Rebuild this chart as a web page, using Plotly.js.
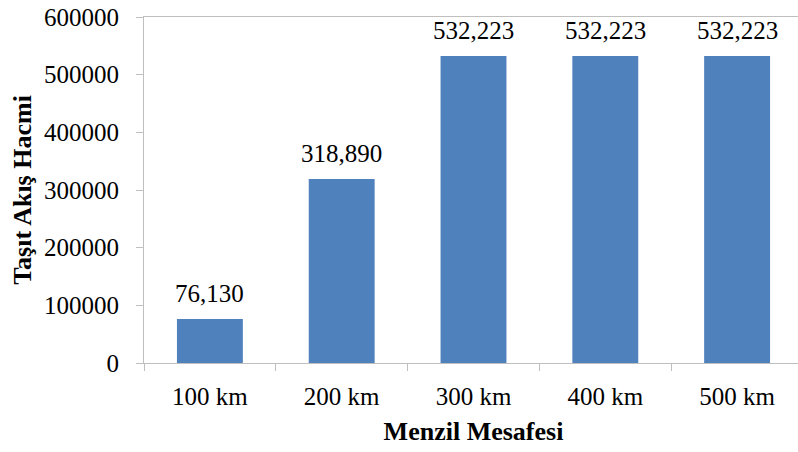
<!DOCTYPE html>
<html>
<head>
<meta charset="utf-8">
<script src="https://cdn.plot.ly/plotly-3.0.1.min.js"></script>
<style>
  html, body { margin: 0; padding: 0; overflow: hidden; background: #fff; }
  #chart { width: 806px; height: 452px; }
</style>
</head>
<body>
<div id="chart"></div>
<script>
// Vehicle flow volume by range distance
const categories = ["100 km", "200 km", "300 km", "400 km", "500 km"];
const flowVolume = [76130, 318890, 532223, 532223, 532223];
const yTicks = [0, 100000, 200000, 300000, 400000, 500000, 600000];

const serif = '"Liberation Serif", "Times New Roman", serif';
const axisGray = "#BFBFBF";

const trace = {
  type: "bar",
  x: categories,
  y: flowVolume,
  marker: { color: "#4F81BD" },
  width: 0.5,
  hoverinfo: "x+y"
};

// value labels above each bar
const valueLabels = categories.map((c, i) => ({
  x: c,
  y: flowVolume[i],
  xref: "x",
  yref: "y",
  text: flowVolume[i].toLocaleString("en-US"),
  showarrow: false,
  yanchor: "bottom",
  yshift: 10,
  font: { family: serif, size: 25, color: "#000" }
}));

const layout = {
  width: 806,
  height: 452,
  margin: { l: 144, r: 3, t: 17, b: 89 },
  paper_bgcolor: "#fff",
  plot_bgcolor: "#fff",
  showlegend: false,
  font: { family: serif, size: 25, color: "#000" },
  annotations: valueLabels,
  xaxis: {
    type: "category",
    range: [-0.5, 4.5],
    showline: true,
    linecolor: axisGray,
    linewidth: 1,
    mirror: true,
    ticks: "outside",
    tickson: "boundaries",
    ticklen: 7,
    tickcolor: axisGray,
    ticklabelstandoff: 11,
    showgrid: false,
    tickfont: { family: serif, size: 25, color: "#000" },
    title: {
      text: "<b>Menzil Mesafesi</b>",
      font: { family: serif, size: 26, color: "#000" },
      standoff: 12
    }
  },
  yaxis: {
    range: [0, 600000],
    tickvals: yTicks,
    ticktext: yTicks.map(String),
    showline: true,
    linecolor: axisGray,
    linewidth: 1,
    ticks: "outside",
    ticklen: 7,
    tickcolor: axisGray,
    ticklabelstandoff: 12,
    showgrid: false,
    zeroline: false,
    tickfont: { family: serif, size: 25, color: "#000" },
    title: {
      text: "<b>Taşıt Akış Hacmi</b>",
      font: { family: serif, size: 26, color: "#000" },
      standoff: 4
    }
  }
};

Plotly.newPlot("chart", [trace], layout, { displayModeBar: false, staticPlot: true });
</script>
</body>
</html>
